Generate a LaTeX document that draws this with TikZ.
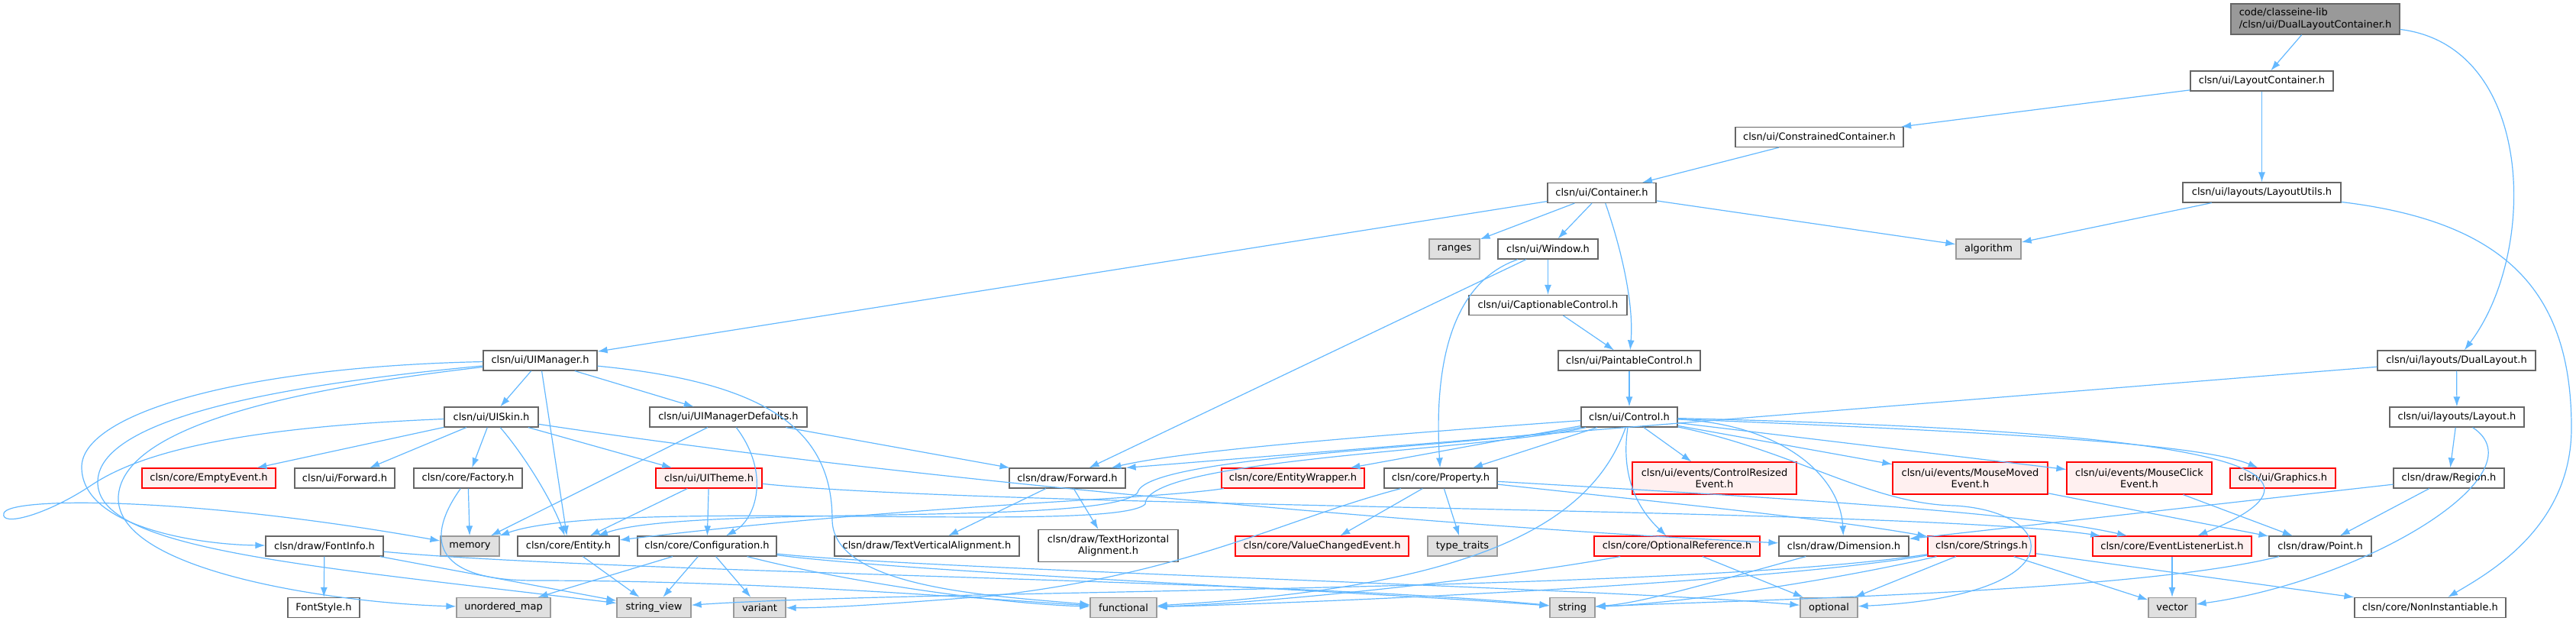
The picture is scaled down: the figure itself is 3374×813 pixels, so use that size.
\documentclass[tikz,border=0pt]{standalone}
\usepackage{fontspec}
\setmainfont{DejaVu Sans}
\usepackage{tikz}
\usetikzlibrary{arrows.meta}
\definecolor{edgec}{HTML}{63B8FF}
\definecolor{boxline}{HTML}{666666}
\definecolor{rootfill}{HTML}{999999}
\definecolor{sysfill}{HTML}{E0E0E0}
\definecolor{sysline}{HTML}{999999}
\definecolor{redfill}{HTML}{FFF0F0}
\definecolor{redline}{HTML}{FF0000}
\tikzset{
  filebox/.style={draw=boxline, fill=white, line width=1.2pt, inner sep=0pt,
    minimum height=26pt, minimum width=#1pt, font=\fontsize{13}{15.5}\selectfont},
  rootbox/.style={filebox=#1, fill=rootfill},
  sysbox/.style={filebox=#1, fill=sysfill, draw=sysline},
  redbox/.style={filebox=#1, fill=redfill, draw=redline},
  twoline/.style={align=center, minimum height=42pt},
  dep/.style={-{Latex[length=13pt,width=9pt]}, draw=edgec, line width=1.2pt},
}

\begin{document}
\begin{tikzpicture}[x=1pt, y=-1pt]
  \useasboundingbox (0,0) rectangle (3374,813);

  \node[rootbox=221, align=left, minimum height=40pt] (dualcont) at (3032.5,25) {code/classeine-lib\\/clsn/ui/DualLayoutContainer.h};
  \node[filebox=187] (laycont) at (2962.5,106) {clsn/ui/LayoutContainer.h};
  \node[filebox=220] (constr) at (2383,179.5) {clsn/ui/ConstrainedContainer.h};
  \node[filebox=142] (container) at (2098,252.5) {clsn/ui/Container.h};
  \node[filebox=207] (layutils) at (2962.5,252) {clsn/ui/layouts/LayoutUtils.h};
  \node[sysbox=66] (ranges) at (1905,326) {ranges};
  \node[filebox=131] (window) at (2027.5,326) {clsn/ui/Window.h};
  \node[sysbox=85] (algorithm) at (2604.5,326) {algorithm};
  \node[filebox=207] (caption) at (2027.5,399.5) {clsn/ui/CaptionableControl.h};
  \node[filebox=149] (uimgr) at (707.5,472) {clsn/ui/UIManager.h};
  \node[filebox=186] (paint) at (2134,472) {clsn/ui/PaintableControl.h};
  \node[filebox=207] (duallay) at (3217.5,472) {clsn/ui/layouts/DualLayout.h};
  \node[filebox=123] (uiskin) at (643.5,546) {clsn/ui/UISkin.h};
  \node[filebox=206] (uidefaults) at (954,546) {clsn/ui/UIManagerDefaults.h};
  \node[filebox=126] (control) at (2134,546) {clsn/ui/Control.h};
  \node[filebox=176] (layout) at (3218,546) {clsn/ui/layouts/Layout.h};

  \node[redbox=175] (emptyevent) at (273.5,626) {clsn/core/EmptyEvent.h};
  \node[filebox=131] (uiforward) at (451.5,626) {clsn/ui/Forward.h};
  \node[filebox=142] (factory) at (613,626) {clsn/core/Factory.h};
  \node[redbox=139] (uitheme) at (928.5,626) {clsn/ui/UITheme.h};
  \node[filebox=152] (drawforward) at (1398,626) {clsn/draw/Forward.h};
  \node[redbox=187] (entitywrapper) at (1693.5,626) {clsn/core/EntityWrapper.h};
  \node[filebox=148] (property) at (1887,626) {clsn/core/Property.h};
  \node[redbox=215, twoline] (ctrlresized) at (2245.5,626) {clsn/ui/events/ControlResized\\Event.h};
  \node[redbox=203, twoline] (mousemoved) at (2580.5,626) {clsn/ui/events/MouseMoved\\Event.h};
  \node[redbox=190, twoline] (mouseclick) at (2802,626) {clsn/ui/events/MouseClick\\Event.h};
  \node[redbox=138] (graphics) at (2990,626) {clsn/ui/Graphics.h};
  \node[filebox=145] (region) at (3207.5,626) {clsn/draw/Region.h};

  \node[filebox=154] (fontinfo) at (425,715) {clsn/draw/FontInfo.h};
  \node[sysbox=77] (memory) at (615.5,715) {memory};
  \node[filebox=133] (entity) at (744.5,715) {clsn/core/Entity.h};
  \node[filebox=182] (config) at (926,715) {clsn/core/Configuration.h};
  \node[filebox=242] (textvert) at (1214,715) {clsn/draw/TextVerticalAlignment.h};
  \node[filebox=183, twoline] (texthor) at (1451.5,714.5) {clsn/draw/TextHorizontal\\Alignment.h};
  \node[redbox=227] (valuechanged) at (1731.5,715) {clsn/core/ValueChangedEvent.h};
  \node[sysbox=91] (typetraits) at (1915.5,715) {type\_traits};
  \node[redbox=217] (optref) at (2196.5,715) {clsn/core/OptionalReference.h};
  \node[filebox=170] (dimension) at (2415,715) {clsn/draw/Dimension.h};
  \node[redbox=141] (strings) at (2595.5,715) {clsn/core/Strings.h};
  \node[redbox=208] (evlist) at (2845,715) {clsn/core/EventListenerList.h};
  \node[filebox=134] (point) at (3039,715) {clsn/draw/Point.h};

  \node[filebox=94] (fontstyle) at (424,795.5) {FontStyle.h};
  \node[sysbox=123] (unordmap) at (659.5,795.5) {unordered\_map};
  \node[sysbox=97] (strview) at (856.5,795.5) {string\_view};
  \node[sysbox=68] (variant) at (995,795.5) {variant};
  \node[sysbox=87] (functional) at (1471.5,795.5) {functional};
  \node[sysbox=59] (string) at (2059.5,795.5) {string};
  \node[sysbox=75] (optional) at (2395.5,795.5) {optional};
  \node[sysbox=62] (vector) at (2845,795.5) {vector};
  \node[filebox=198] (noninst) at (3183,795.5) {clsn/core/NonInstantiable.h};

  \draw[dep] (dualcont) -- (laycont);
  \draw[dep] (dualcont) .. controls (3320,60) and (3325,330) .. (duallay);
  \draw[dep] (laycont) -- (constr);
  \draw[dep] (laycont) -- (layutils);
  \draw[dep] (constr) -- (container);
  \draw[dep] (layutils) -- (algorithm);
  \draw[dep] (layutils) .. controls (3280,290) and (3368,380) .. (3368,560) .. controls (3368,690) and (3260,750) .. (noninst);
  \draw[dep] (container) -- (uimgr);
  \draw[dep] (container) -- (ranges);
  \draw[dep] (container) -- (window);
  \draw[dep] (container) .. controls (2125,330) and (2140,400) .. (paint);
  \draw[dep] (container) -- (algorithm);
  \draw[dep] (window) -- (caption);
  \draw[dep] (window) -- (drawforward);
  \draw[dep] (window) .. controls (1900,370) and (1878,480) .. (property);
  \draw[dep] (caption) -- (paint);
  \draw[dep] (paint) -- (control);
  \draw[dep] (duallay) -- (drawforward.north east);
  \draw[dep] (duallay) -- (layout);
  \draw[dep] (layout) -- (region);
  \draw[dep] (layout) .. controls (3330,620) and (3100,760) .. (vector);
  \draw[dep] (region) -- (point);
  \draw[dep] (region) -- (dimension);
  \draw[dep] (mousemoved) -- (point);
  \draw[dep] (mouseclick) -- (point);
  \draw[dep] (evlist) -- (vector);
  \draw[dep] (point) .. controls (2800,775) and (2300,785) .. (string);
  \draw[dep] (strings) -- (optional);
  \draw[dep] (strings) -- (vector);
  \draw[dep] (strings) -- (noninst);
  \draw[dep] (strings) .. controls (2400,760) and (2200,790) .. (string);
  \draw[dep] (strings) .. controls (2300,765) and (1700,790) .. (functional);
  \draw[dep] (strings) .. controls (2200,775) and (1200,772) .. (strview);
  \draw[dep] (dimension) .. controls (2250,760) and (2150,790) .. (string);
  \draw[dep] (optref) -- (optional);
  \draw[dep] (optref) .. controls (1950,760) and (1650,790) .. (functional);

  \draw[dep] (control) .. controls (1800,570) and (1550,590) .. (drawforward);
  \draw[dep] (control) -- (entitywrapper);
  \draw[dep] (control) -- (property);
  \draw[dep] (control) -- (ctrlresized);
  \draw[dep] (control) -- (mousemoved);
  \draw[dep] (control) -- (mouseclick);
  \draw[dep] (control) .. controls (2600,565) and (2880,580) .. (graphics);
  \draw[dep] (control) .. controls (2700,560) and (3150,590) .. (evlist);
  \draw[dep] (control) .. controls (2330,555) and (2410,620) .. (dimension);
  \draw[dep] (control) .. controls (2350,590) and (2450,660) .. (2560,662) .. controls (2700,670) and (2720,780) .. (optional);
  \draw[dep] (control) .. controls (2120,640) and (2160,680) .. (optref);
  \draw[dep] (control) .. controls (2080,700) and (1900,770) .. (functional);
  \draw[dep] (control) .. controls (1950,585) and (1500,595) .. (1490,645) .. controls (1450,690) and (900,660) .. (entity);
  \draw[dep] (control) .. controls (1950,590) and (1500,600) .. (1500,660) .. controls (1460,700) and (800,650) .. (memory);

  \draw[dep] (uimgr) -- (uiskin);
  \draw[dep] (uimgr) -- (uidefaults);
  \draw[dep] (uimgr) -- (entity);
  \draw[dep] (uimgr) .. controls (320,480) and (110,540) .. (107,610) .. controls (105,690) and (260,713) .. (fontinfo);
  \draw[dep] (uimgr) .. controls (300,510) and (130,560) .. (128,630) .. controls (125,720) and (400,740) .. (strview);
  \draw[dep] (uimgr) .. controls (330,515) and (160,570) .. (155,650) .. controls (150,750) and (450,790) .. (unordmap);
  \draw[dep] (uimgr) .. controls (1000,500) and (1090,560) .. (1090,680) .. controls (1090,770) and (1300,780) .. (functional);

  \draw[dep] (uiskin) -- (emptyevent);
  \draw[dep] (uiskin) -- (uiforward);
  \draw[dep] (uiskin) -- (factory);
  \draw[dep] (uiskin) -- (uitheme);
  \draw[dep] (uiskin) .. controls (690,600) and (725,660) .. (entity);
  \draw[dep] (uiskin) .. controls (300,560) and (180,595) .. (120,635) .. controls (60,675) and (0,690) .. (5,672) .. controls (10,650) and (250,650) .. (memory);
  \draw[dep] (uiskin) .. controls (1200,630) and (1900,690) .. (dimension);

  \draw[dep] (uidefaults) -- (memory);
  \draw[dep] (uidefaults) .. controls (1010,620) and (990,680) .. (config);
  \draw[dep] (uidefaults) -- (drawforward);
  \draw[dep] (factory) -- (memory);
  \draw[dep] (factory) .. controls (560,700) and (560,760) .. (700,760) .. controls (1000,760) and (1300,785) .. (functional);
  \draw[dep] (uitheme) -- (entity);
  \draw[dep] (uitheme) -- (config);
  \draw[dep] (uitheme) .. controls (1300,665) and (2500,665) .. (evlist);

  \draw[dep] (fontinfo) -- (fontstyle);
  \draw[dep] (fontinfo) -- (strview);
  \draw[dep] (fontinfo) .. controls (800,750) and (1700,760) .. (string);
  \draw[dep] (config) -- (unordmap);
  \draw[dep] (config) -- (strview);
  \draw[dep] (config) -- (variant);
  \draw[dep] (config) .. controls (1100,760) and (1300,790) .. (functional);
  \draw[dep] (config) .. controls (1200,750) and (1800,775) .. (string);
  \draw[dep] (config) .. controls (1200,745) and (2100,770) .. (optional);
  \draw[dep] (entity) -- (strview);
  \draw[dep] (drawforward) -- (textvert);
  \draw[dep] (drawforward) -- (texthor);
  \draw[dep] (entitywrapper) .. controls (1500,655) and (1200,660) .. (entity);
  \draw[dep] (property) -- (valuechanged);
  \draw[dep] (property) -- (typetraits);
  \draw[dep] (property) .. controls (1680,680) and (1560,750) .. (1300,780) .. controls (1150,792) and (1080,796) .. (variant);
  \draw[dep] (property) .. controls (2200,660) and (2400,680) .. (strings);
  \draw[dep] (property) .. controls (2300,650) and (2650,670) .. (evlist);
\end{tikzpicture}
\end{document}
